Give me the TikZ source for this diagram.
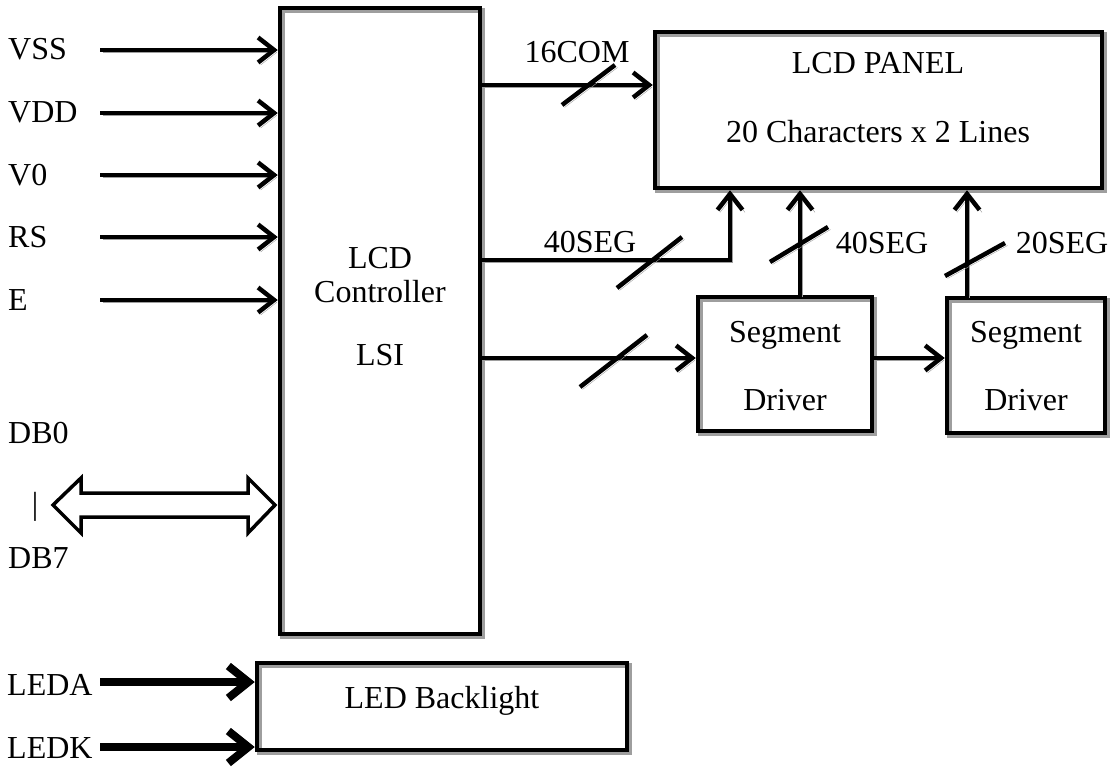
\documentclass[tikz,border=0pt]{standalone}
\usepackage{fontspec}
\setmainfont{Liberation Serif}
\usetikzlibrary{arrows.meta}
\begin{document}
\begin{tikzpicture}[x=1pt,y=-1pt,
  font=\fontsize{32}{38}\selectfont,
  shadowed/.style={preaction={draw=black!38, transform canvas={shift={(2.5pt,-2.5pt)}}}},
  box/.style={draw, line width=4.5pt, shadowed, inner sep=0pt},
  wire/.style={line width=4.5pt, shadowed},
  arr/.style={wire, -{Straight Barb[length=16pt,width=25pt]}},
  thickarr/.style={line width=8pt, shadowed, -{Straight Barb[length=20pt,width=32pt]}},
  slash/.style={line width=4.5pt, shadowed},
  txt/.style={inner sep=0pt, anchor=base},
  ltxt/.style={inner sep=0pt, anchor=base west},
  hollow/.style={draw, line width=3.5pt, line join=miter, fill=white}
]
\useasboundingbox (0,0) rectangle (1115,769);

% boxes
\node[box, minimum width=200pt, minimum height=626pt] (ctrl) at (380,321) {};
\node[box, minimum width=447pt, minimum height=156pt] (panel) at (878.5,110) {};
\node[box, minimum width=174pt, minimum height=134pt] (drv1) at (785,364) {};
\node[box, minimum width=158pt, minimum height=135pt] (drv2) at (1026,365.5) {};
\node[box, minimum width=370pt, minimum height=87pt] (led) at (442,706.5) {};

% box texts
\node[txt] (tctrlA) at (380,268.5) {LCD};
\node[txt] (tctrlB) at (380,302.5) {Controller};
\node[txt] (tctrlC) at (380,365.5) {LSI};
\node[txt] (tpanA) at (878,73.5) {LCD PANEL};
\node[txt] (tpanB) at (878,142.5) {20 Characters x 2 Lines};
\node[txt] (td1A) at (785,342.5) {Segment};
\node[txt] (td1B) at (785,410.5) {Driver};
\node[txt] (td2A) at (1026,342.5) {Segment};
\node[txt] (td2B) at (1026,410.5) {Driver};
\node[txt] (tled) at (442,708.5) {LED Backlight};

% input labels
\node[ltxt] (lvss) at (8,59) {VSS};
\node[ltxt] (lvdd) at (8,122) {VDD};
\node[ltxt] (lv0) at (8,185) {V0};
\node[ltxt] (lrs) at (8,247) {RS};
\node[ltxt] (le) at (8,310) {E};
\node[ltxt] (ldb0) at (8,443.5) {DB0};
\node[txt] (lbar) at (35,514) {|};
\node[ltxt] (ldb7) at (8,568.5) {DB7};
\node[ltxt] (leda) at (7,695) {LEDA};
\node[ltxt] (ledk) at (7,758) {LEDK};

% bus labels
\node[txt] (l16) at (577,62.5) {16COM};
\node[txt] (l40a) at (590,252.5) {40SEG};
\node[txt] (l40b) at (882,253.5) {40SEG};
\node[txt] (l20) at (1062,253.5) {20SEG};

% input arrow start points
\coordinate (svss) at (100,50);
\coordinate (svdd) at (100,113);
\coordinate (sv0) at (100,175);
\coordinate (srs) at (100,237);
\coordinate (se) at (100,300);
\coordinate (seda) at (100,682);
\coordinate (sedk) at (100,747);

\draw[arr] (svss) -- (svss -| ctrl.west);
\draw[arr] (svdd) -- (svdd -| ctrl.west);
\draw[arr] (sv0) -- (sv0 -| ctrl.west);
\draw[arr] (srs) -- (srs -| ctrl.west);
\draw[arr] (se) -- (se -| ctrl.west);
\draw[thickarr] (seda) -- (seda -| led.west);
\draw[thickarr] (sedk) -- (sedk -| led.west);

% data bus double arrow
\draw[hollow] (53,505) -- (81,478) -- (81,493) -- (248,493) -- (248,478) -- (275,505)
  -- (248,533) -- (248,517) -- (81,517) -- (81,533) -- cycle;

% outputs
\coordinate (ycom) at (0,85);
\coordinate (yseg) at (0,260);
\coordinate (ydrv) at (0,358);
\coordinate (xseg) at (730,0);
\coordinate (xd1) at (800,0);
\coordinate (xd2) at (967,0);

\draw[arr] (ctrl.east |- ycom) -- (panel.west |- ycom);
\draw[arr] (ctrl.east |- yseg) -| (xseg |- panel.south);
\draw[arr] (ctrl.east |- ydrv) -- (drv1.west |- ydrv);
\draw[arr] (drv1.east |- ydrv) -- (drv2.west |- ydrv);
\draw[arr] (xd1 |- drv1.north) -- (xd1 |- panel.south);
\draw[arr] (xd2 |- drv2.north) -- (xd2 |- panel.south);

% bus slashes
\draw[slash] (562,105) -- (615,65);
\draw[slash] (617,288) -- (682,237);
\draw[slash] (580,387) -- (647,335);
\draw[slash] (770,262) -- (828,227);
\draw[slash] (945,276) -- (1005,243);
\end{tikzpicture}
\end{document}
